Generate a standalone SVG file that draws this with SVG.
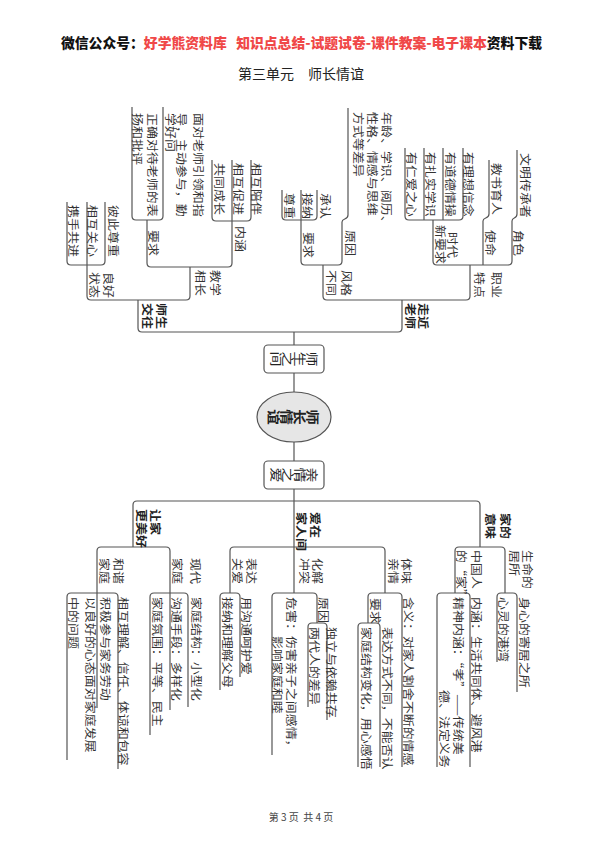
<svg xmlns="http://www.w3.org/2000/svg" width="600" height="848" viewBox="0 0 600 848">
<style>
.ln{fill:none;stroke:#555;stroke-width:1.2}
.t{font-family:"Noto Sans CJK SC","Noto Sans CJK JP",sans-serif;font-size:11px;fill:#333;dominant-baseline:central}
.b{font-weight:700;fill:#222}
.c{font-family:"Noto Sans CJK SC","Noto Sans CJK JP",sans-serif;font-size:12px;fill:#222;text-anchor:middle;dominant-baseline:central}
.h{font-family:"Noto Sans CJK SC","Noto Sans CJK JP",sans-serif;font-size:14px;font-weight:900;dominant-baseline:central;white-space:pre}
</style>
<rect width="600" height="848" fill="#fff"/>
<g id="header">
<text class="h" x="61" y="42" textLength="481" lengthAdjust="spacingAndGlyphs"><tspan fill="#111">微信公众号：</tspan><tspan fill="#f04848">好学熊资料库   知识点总结-试题试卷-课件教案-电子课本</tspan><tspan fill="#111">资料下载</tspan></text>
<text x="301" y="73" text-anchor="middle" dominant-baseline="central" font-family="Noto Sans CJK SC, sans-serif" font-size="14" fill="#222">第三单元　师长情谊</text>
</g>
<g id="connectors">
<path class="ln" d="M294,332 V345 M294,373 V392 M294,442 V461 M294,489 V593"/>
<path class="ln" d="M138,300 V328 Q138,332 142,332 H398 Q402,332 402,328 V300"/>
<path class="ln" d="M87,265 V296 Q87,300 91,300 H186 Q190,300 190,296 V267"/>
<path class="ln" d="M67,202 V261 Q67,265 71,265 H101 Q105,265 105,261 V202 M87,265 V202"/>
<path class="ln" d="M147,220 V263 Q147,267 151,267 H228 Q232,267 232,263 V221"/>
<path class="ln" d="M212,160 V217 Q212,221 216,221 H247 Q251,221 251,217 V160 M232,221 V160"/>
<path class="ln" d="M132,107 V216 Q132,220 136,220 H159 Q163,220 163,216 V107"/>
<path class="ln" d="M323,265 V296 Q323,300 327,300 H466 Q470,300 470,296 V265"/>
<path class="ln" d="M301,220 V261 Q301,265 305,265 H338 Q342,265 342,261 V222"/>
<path class="ln" d="M342,222 C342,218 348,220 348,215 V108"/>
<path class="ln" d="M282,190 V216 Q282,220 286,220 H313 Q317,220 317,216 V190 M301,220 V190"/>
<path class="ln" d="M433,220 V261 Q433,265 437,265 H508 Q512,265 512,261 V221 M483,265 V221"/>
<path class="ln" d="M483,221 C483,217 489,219 489,214 V160"/>
<path class="ln" d="M512,221 C512,217 517,219 517,214 V150"/>
<path class="ln" d="M405,148 V216 Q405,220 409,220 H459 Q463,220 463,216 V148 M424,220 V148 M443,220 V148"/>
<path class="ln" d="M133,547 V505 Q133,501 137,501 H476 Q480,501 480,505 V547"/>
<path class="ln" d="M97,593 V551 Q97,547 101,547 H166 Q170,547 170,551 V593"/>
<path class="ln" d="M150,735 V597 Q150,593 154,593 H184 Q188,593 188,597 V707 M170,593 V710"/>
<path class="ln" d="M67,760 V597 Q67,593 71,593 H114 Q118,593 118,597 V769 M97,593 V708"/>
<path class="ln" d="M230,593 V551 Q230,547 234,547 H381 Q385,547 385,551 V593"/>
<path class="ln" d="M220,690 V597 Q220,593 224,593 H236 Q240,593 240,597 V677"/>
<path class="ln" d="M272,755 V597 Q272,593 276,593 H313 Q317,593 317,597 V623"/>
<path class="ln" d="M308,707 V627 Q308,623 312,623 H323 Q327,623 327,627 V720"/>
<path class="ln" d="M368,623 V597 Q368,593 372,593 H398 Q402,593 402,597 V767"/>
<path class="ln" d="M358,767 V627 Q358,623 362,623 H376 Q380,623 380,627 V767"/>
<path class="ln" d="M455,593 V551 Q455,547 459,547 H501 Q505,547 505,551 V593"/>
<path class="ln" d="M497,662 V597 Q497,593 501,593 H513 Q517,593 517,597 V692"/>
<path class="ln" d="M437,767 V597 Q437,593 441,593 H466 Q470,593 470,597 V767"/>
</g>
<g id="root">
<ellipse cx="294" cy="417" rx="37" ry="25" fill="#e6e6e6" stroke="#555" stroke-width="1.2"/>
<text class="c b" style="font-size:13px" transform="translate(313.5,417) rotate(90) scale(1.2,1)">师</text>
<text class="c b" style="font-size:13px" transform="translate(300.5,417) rotate(90) scale(1.2,1)">长</text>
<text class="c b" style="font-size:13px" transform="translate(287.5,417) rotate(90) scale(1.2,1)">情</text>
<text class="c b" style="font-size:13px" transform="translate(274.5,417) rotate(90) scale(1.2,1)">谊</text>
</g>
<g id="n-shisheng">
<rect x="264" y="345" width="60" height="28" rx="4" fill="#fff" stroke="#555" stroke-width="1.2"/>
<text class="c" transform="translate(312,359) rotate(90) scale(1.25,1)">师</text>
<text class="c" transform="translate(300,359) rotate(90) scale(1.25,1)">生</text>
<text class="c" transform="translate(288,359) rotate(90) scale(1.25,1)">之</text>
<text class="c" transform="translate(276,359) rotate(90) scale(1.25,1)">间</text>
</g>
<g id="n-qinqing">
<rect x="264" y="461" width="60" height="28" rx="4" fill="#fff" stroke="#555" stroke-width="1.2"/>
<text class="c" transform="translate(312,475) rotate(90) scale(1.25,1)">亲</text>
<text class="c" transform="translate(300,475) rotate(90) scale(1.25,1)">情</text>
<text class="c" transform="translate(288,475) rotate(90) scale(1.25,1)">之</text>
<text class="c" transform="translate(276,475) rotate(90) scale(1.25,1)">爱</text>
</g>
<g id="n-shishengjiaowang"><text class="t b" transform="translate(162,303) rotate(90) scale(1.18,1)">师生</text><text class="t b" transform="translate(148,303) rotate(90) scale(1.18,1)">交往</text></g>
<g id="n-lianghao"><text class="t" transform="translate(109,272) rotate(90) scale(1.18,1)">良好</text><text class="t" transform="translate(95,272) rotate(90) scale(1.18,1)">状态</text></g>
<g id="n-bici"><text class="t" transform="translate(114,205) rotate(90) scale(1.18,1)">彼此尊重</text></g>
<g id="n-guanxin"><text class="t" transform="translate(93,205) rotate(90) scale(1.18,1)">相互关心</text></g>
<g id="n-xieshou"><text class="t" transform="translate(74,205) rotate(90) scale(1.18,1)">携手共进</text></g>
<g id="n-jiaoxue"><text class="t" transform="translate(216,270) rotate(90) scale(1.18,1)">教学</text><text class="t" transform="translate(201,270) rotate(90) scale(1.18,1)">相长</text></g>
<g id="n-yaoqiu1"><text class="t" transform="translate(154,230) rotate(90) scale(1.18,1)">要求</text></g>
<g id="n-neihan1"><text class="t" transform="translate(241,226) rotate(90) scale(1.18,1)">内涵</text></g>
<g id="n-peiban"><text class="t" transform="translate(257.5,163) rotate(90) scale(1.18,1)">相互陪伴</text></g>
<g id="n-cujin"><text class="t" transform="translate(239,163) rotate(90) scale(1.18,1)">相互促进</text></g>
<g id="n-chengzhang"><text class="t" transform="translate(220,163) rotate(90) scale(1.18,1)">共同成长</text></g>
<g id="n-miandui"><text class="t" transform="translate(199,113) rotate(90) scale(1.18,1)">面对老师引领和指</text><text class="t" transform="translate(182,113) rotate(90) scale(1.18,1)">导，主动参与，勤</text><text class="t" transform="translate(171,113) rotate(90) scale(1.18,1)">学好问</text></g>
<g id="n-zhengque"><text class="t" transform="translate(153,113) rotate(90) scale(1.18,1)">正确对待老师的表</text><text class="t" transform="translate(138,113) rotate(90) scale(1.18,1)">扬和批评</text></g>
<g id="n-zoujin"><text class="t b" transform="translate(424,303) rotate(90) scale(1.18,1)">走近</text><text class="t b" transform="translate(411,303) rotate(90) scale(1.18,1)">老师</text></g>
<g id="n-fengge"><text class="t" transform="translate(347,270) rotate(90) scale(1.18,1)">风格</text><text class="t" transform="translate(332,270) rotate(90) scale(1.18,1)">不同</text></g>
<g id="n-yaoqiu2"><text class="t" transform="translate(309,232) rotate(90) scale(1.18,1)">要求</text></g>
<g id="n-chengren"><text class="t" transform="translate(326,193) rotate(90) scale(1.18,1)">承认</text></g>
<g id="n-jiena"><text class="t" transform="translate(308,193) rotate(90) scale(1.18,1)">接纳</text></g>
<g id="n-zunzhong"><text class="t" transform="translate(290,193) rotate(90) scale(1.18,1)">尊重</text></g>
<g id="n-yuanyin1"><text class="t" transform="translate(351,230) rotate(90) scale(1.18,1)">原因</text></g>
<g id="n-nianling"><text class="t" transform="translate(387,112) rotate(90) scale(1.18,1)">年龄、学识、阅历、</text><text class="t" transform="translate(373,112) rotate(90) scale(1.18,1)">性格、情感与思维</text><text class="t" transform="translate(359,112) rotate(90) scale(1.18,1)">方式等差异</text></g>
<g id="n-zhiye"><text class="t" transform="translate(497,272) rotate(90) scale(1.18,1)">职业</text><text class="t" transform="translate(480,272) rotate(90) scale(1.18,1)">特点</text></g>
<g id="n-shiming"><text class="t" transform="translate(491,230) rotate(90) scale(1.18,1)">使命</text></g>
<g id="n-jiaoshu"><text class="t" transform="translate(497,163) rotate(90) scale(1.18,1)">教书育人</text></g>
<g id="n-juese"><text class="t" transform="translate(519,230) rotate(90) scale(1.18,1)">角色</text></g>
<g id="n-wenming"><text class="t" transform="translate(526,153) rotate(90) scale(1.18,1)">文明传承者</text></g>
<g id="n-shidai"><text class="t" transform="translate(453,232) rotate(90) scale(1.18,1)">时代</text><text class="t" transform="translate(441,225) rotate(90) scale(1.18,1)">新要求</text></g>
<g id="n-lixiang"><text class="t" transform="translate(469,152) rotate(90) scale(1.18,1)">有理想信念</text></g>
<g id="n-daode"><text class="t" transform="translate(451,152) rotate(90) scale(1.18,1)">有道德情操</text></g>
<g id="n-xueshi"><text class="t" transform="translate(431,152) rotate(90) scale(1.18,1)">有扎实学识</text></g>
<g id="n-renai"><text class="t" transform="translate(412,152) rotate(90) scale(1.18,1)">有仁爱之心</text></g>
<g id="n-rangjia"><text class="t b" transform="translate(156,509) rotate(90) scale(1.18,1)">让家</text><text class="t b" transform="translate(142,509) rotate(90) scale(1.18,1)">更美好</text></g>
<g id="n-aizai"><text class="t b" transform="translate(316,512) rotate(90) scale(1.18,1)">爱在</text><text class="t b" transform="translate(302,512) rotate(90) scale(1.18,1)">家人间</text></g>
<g id="n-jiade"><text class="t b" transform="translate(506,513) rotate(90) scale(1.18,1)">家的</text><text class="t b" transform="translate(491,513) rotate(90) scale(1.18,1)">意味</text></g>
<g id="n-xiandai"><text class="t" transform="translate(196,558) rotate(90) scale(1.18,1)">现代</text><text class="t" transform="translate(178,558) rotate(90) scale(1.18,1)">家庭</text></g>
<g id="n-hexie"><text class="t" transform="translate(119,558) rotate(90) scale(1.18,1)">和谐</text><text class="t" transform="translate(105,558) rotate(90) scale(1.18,1)">家庭</text></g>
<g id="n-jiegou"><text class="t" transform="translate(197,597) rotate(90) scale(1.18,1)">家庭结构：小型化</text></g>
<g id="n-goutong"><text class="t" transform="translate(177,597) rotate(90) scale(1.18,1)">沟通手段：多样化</text></g>
<g id="n-fenwei"><text class="t" transform="translate(158,597) rotate(90) scale(1.18,1)">家庭氛围：平等、民主</text></g>
<g id="n-lijie"><text class="t" transform="translate(124,597) rotate(90) scale(1.18,1)">相互理解、信任、体谅和包容</text></g>
<g id="n-jiwu"><text class="t" transform="translate(106,597) rotate(90) scale(1.18,1)">积极参与家务劳动</text></g>
<g id="n-xintai"><text class="t" transform="translate(91,597) rotate(90) scale(1.18,1)">以良好的心态面对家庭发展</text><text class="t" transform="translate(74,597) rotate(90) scale(1.18,1)">中的问题</text></g>
<g id="n-biaoda"><text class="t" transform="translate(252,558) rotate(90) scale(1.18,1)">表达</text><text class="t" transform="translate(238,558) rotate(90) scale(1.18,1)">关爱</text></g>
<g id="n-hehu"><text class="t" transform="translate(247,597) rotate(90) scale(1.18,1)">用沟通呵护爱</text></g>
<g id="n-jiena2"><text class="t" transform="translate(228,597) rotate(90) scale(1.18,1)">接纳和理解父母</text></g>
<g id="n-huajie"><text class="t" transform="translate(318,558) rotate(90) scale(1.18,1)">化解</text><text class="t" transform="translate(305,558) rotate(90) scale(1.18,1)">冲突</text></g>
<g id="n-yuanyin2"><text class="t" transform="translate(324,597) rotate(90) scale(1.18,1)">原因</text></g>
<g id="n-duli"><text class="t" transform="translate(332,627) rotate(90) scale(1.18,1)">独立与依赖共存</text></g>
<g id="n-liangdai"><text class="t" transform="translate(315,627) rotate(90) scale(1.18,1)">两代人的差异</text></g>
<g id="n-weihai"><text class="t" transform="translate(292,597) rotate(90) scale(1.18,1)">危害：伤害亲子之间感情，</text><text class="t" transform="translate(278,636) rotate(90) scale(1.18,1)">影响家庭和睦</text></g>
<g id="n-tiwei"><text class="t" transform="translate(407,558) rotate(90) scale(1.18,1)">体味</text><text class="t" transform="translate(394,558) rotate(90) scale(1.18,1)">亲情</text></g>
<g id="n-yaoqiu3"><text class="t" transform="translate(376,598) rotate(90) scale(1.18,1)">要求</text></g>
<g id="n-hanyi"><text class="t" transform="translate(409,597) rotate(90) scale(1.18,1)">含义：对家人割舍不断的情感</text></g>
<g id="n-fangshi"><text class="t" transform="translate(388,627) rotate(90) scale(1.18,1)">表达方式不同，不能否认</text></g>
<g id="n-bianhua"><text class="t" transform="translate(367,627) rotate(90) scale(1.18,1)">家庭结构变化，用心感悟</text></g>
<g id="n-zhongguo"><text class="t" transform="translate(477,550) rotate(90) scale(1.18,1)">中国人</text><text class="t" transform="translate(462,550) rotate(90) scale(1.18,1)">的“家”</text></g>
<g id="n-neihan2"><text class="t" transform="translate(477,597) rotate(90) scale(1.18,1)">内涵：生活共同体、避风港</text></g>
<g id="n-jingshen"><text class="t" transform="translate(459,597) rotate(90) scale(1.18,1)">精神内涵：“孝”——传统美</text><text class="t" transform="translate(445,690) rotate(90) scale(1.18,1)">德、法定义务</text></g>
<g id="n-shengming"><text class="t" transform="translate(528,550) rotate(90) scale(1.18,1)">生命的</text><text class="t" transform="translate(515,550) rotate(90) scale(1.18,1)">居所</text></g>
<g id="n-shenxin"><text class="t" transform="translate(525,597) rotate(90) scale(1.18,1)">身心的寄居之所</text></g>
<g id="n-xinling"><text class="t" transform="translate(504,597) rotate(90) scale(1.18,1)">心灵的港湾</text></g>
<g id="footer"><text x="301" y="816" text-anchor="middle" dominant-baseline="central" font-family="Noto Sans CJK SC, sans-serif" font-size="10" fill="#444" style="white-space:pre">第 3 页  共 4 页</text></g>
</svg>
